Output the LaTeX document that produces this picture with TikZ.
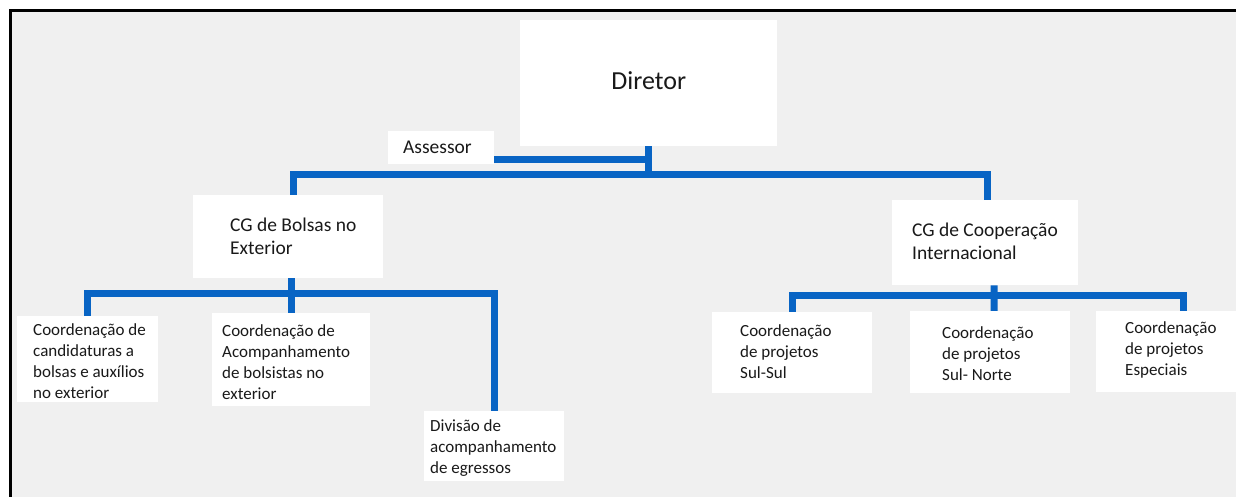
\documentclass[tikz,border=0pt]{standalone}
\usepackage{fontspec}
\setmainfont{Carlito}
\usetikzlibrary{calc}
\definecolor{bg}{RGB}{240,240,240}
\definecolor{lineblue}{RGB}{8,100,196}
\definecolor{txt}{RGB}{25,25,25}
\begin{document}
\begin{tikzpicture}[x=1bp,y=-1bp,
  box/.style={fill=white, draw=none, inner sep=0, anchor=north west},
  conn/.style={draw=lineblue, line width=7bp},
  head/.style={inner sep=0, align=left, anchor=west, text=txt, font=\fontsize{19.5bp}{23bp}\selectfont},
  small/.style={inner sep=0, align=left, anchor=west, text=txt, font=\fontsize{17bp}{21bp}\selectfont}]
% canvas
\useasboundingbox (0,0) rectangle (1236,497);
\fill[white] (0,0) rectangle (1236,497);
\fill[bg] (10,11) rectangle (1236,497);
\draw[black, line width=3bp] (10,497) -- (10,11) -- (1236,11);
% boxes
\node[box, minimum width=257bp, minimum height=126bp] (dir) at (520,20) {};
\node[box, minimum width=106bp, minimum height=33bp] (ass) at (388,131) {};
\node[box, minimum width=190bp, minimum height=83bp] (cgb) at (193,195) {};
\node[box, minimum width=186bp, minimum height=85bp] (cgc) at (892,200) {};
\node[box, minimum width=141bp, minimum height=86bp] (c1) at (17,316) {};
\node[box, minimum width=158bp, minimum height=93bp] (c2) at (212,313) {};
\node[box, minimum width=140bp, minimum height=70bp] (div) at (424,411) {};
\node[box, minimum width=160bp, minimum height=81bp] (ss) at (712,312) {};
\node[box, minimum width=160bp, minimum height=82bp] (sn) at (910,311) {};
\node[box, minimum width=140bp, minimum height=81bp] (esp) at (1096,311) {};
% texts
\node[inner sep=0, text=txt, font=\fontsize{26bp}{30bp}\selectfont] (dirt) at ($(dir.center)+(0,-3)$) {Diretor};
\node[head] (asst) at ($(ass.west)+(15,0)$) {Assessor};
\node[head] (cgbt) at ($(cgb.west)+(37,0)$) {CG de Bolsas no\\Exterior};
\node[head] (cgct) at ($(cgc.west)+(20,-1)$) {CG de Cooperação\\Internacional};
\node[small] (c1t) at ($(c1.west)+(16,1.5)$) {Coordenação de\\candidaturas a\\bolsas e auxílios\\no exterior};
\node[small] (c2t) at ($(c2.west)+(10,2)$) {Coordenação de\\Acompanhamento\\de bolsistas no\\exterior};
\node[small] (divt) at ($(div.west)+(6,2)$) {Divisão de\\acompanhamento\\de egressos};
\node[small] (sst) at ($(ss.west)+(28,-1)$) {Coordenação\\de projetos\\Sul-Sul};
\node[small] (snt) at ($(sn.west)+(32,1.5)$) {Coordenação\\de projetos\\Sul- Norte};
\node[small] (espt) at ($(esp.west)+(29,-2)$) {Coordenação\\de projetos\\Especiais};
% bar levels
\coordinate (bar) at (0,175);
\coordinate (lbar) at (0,293.5);
\coordinate (rbar) at (0,295.5);
\coordinate (espin) at ($(esp.north west)+(87,0)$);
% connectors
\draw[conn] ($(ass.south east)+(0,-4.5)$) -| (dir.south);
\draw[conn] (dir.south) -- (dir.south |- bar);
\draw[conn] ($(cgb.north)+(5,0)$) |- (dir.south |- bar) -| ($(cgc.north)+(2,0)$);
\draw[conn] (c1.north) |- (div.north |- lbar) -- (div.north);
\draw[conn] (cgb.south -| c2.north) -- (c2.north);
\draw[conn] (ss.north) |- (espin |- rbar) -- (espin);
\draw[conn] ($(cgc.south)+(9,0)$) -- ($(sn.north)+(4,0)$);
\end{tikzpicture}
\end{document}
